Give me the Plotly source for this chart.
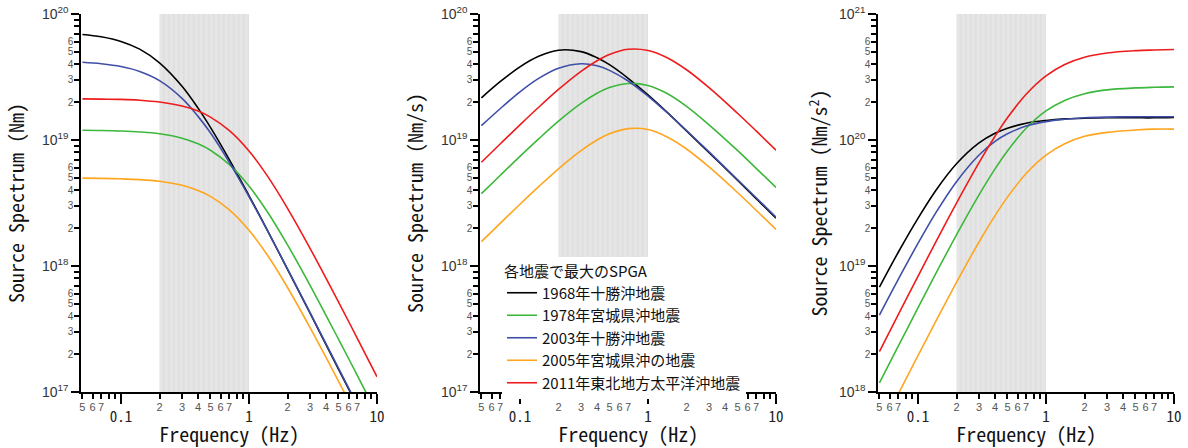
import math
import plotly.graph_objects as go

# ---------------- data ----------------
freq = [0.05, 0.07, 0.1, 0.14, 0.2, 0.3, 0.4, 0.5, 0.7, 1.0, 1.4, 2.0, 3.0, 5.0, 7.0, 10.0]

names = ["1968年十勝沖地震", "1978年宮城県沖地震", "2003年十勝沖地震",
         "2005年宮城県沖の地震", "2011年東北地方太平洋沖地震"]
colors = ["#000000", "#3cb83c", "#3f4fa8", "#ffa51f", "#ee1c1c"]

# displacement source spectrum (Nm)
d1968 = [6.88e19, 6.59e19, 6.06e19, 5.26e19, 4.10e19, 2.67e19, 1.79e19, 1.26e19, 7.03e18, 3.62e18, 1.90e18, 9.42e17, 4.22e17, 1.52e17, 7.78e16, 3.81e16]
d1978 = [1.195e19, 1.19e19, 1.179e19, 1.159e19, 1.12e19, 1.034e19, 9.33e18, 8.30e18, 6.40e18, 4.31e18, 2.67e18, 1.47e18, 7.03e17, 2.63e17, 1.36e17, 6.68e16]
d2003 = [4.14e19, 4.03e19, 3.83e19, 3.50e19, 2.96e19, 2.14e19, 1.54e19, 1.14e19, 6.68e18, 3.56e18, 1.89e18, 9.48e17, 4.27e17, 1.55e17, 7.90e16, 3.88e16]
d2005 = [4.98e18, 4.96e18, 4.92e18, 4.85e18, 4.70e18, 4.37e18, 3.98e18, 3.57e18, 2.80e18, 1.92e18, 1.21e18, 6.75e17, 3.24e17, 1.22e17, 6.29e16, 3.10e16]
d2011 = [2.12e19, 2.11e19, 2.10e19, 2.07e19, 2.00e19, 1.86e19, 1.70e19, 1.52e19, 1.19e19, 8.18e18, 5.14e18, 2.87e18, 1.38e18, 5.19e17, 2.68e17, 1.32e17]

# velocity source spectrum (Nm/s)
v1968 = [2.16e19, 2.90e19, 3.81e19, 4.62e19, 5.16e19, 5.03e19, 4.50e19, 3.96e19, 3.09e19, 2.28e19, 1.67e19, 1.18e19, 7.95e18, 4.79e18, 3.42e18, 2.40e18]
v1978 = [3.75e18, 5.23e18, 7.41e18, 1.02e19, 1.41e19, 1.95e19, 2.35e19, 2.61e19, 2.81e19, 2.71e19, 2.35e19, 1.85e19, 1.32e19, 8.26e18, 5.96e18, 4.20e18]
v2003 = [1.30e19, 1.77e19, 2.41e19, 3.08e19, 3.71e19, 4.03e19, 3.88e19, 3.57e19, 2.94e19, 2.23e19, 1.66e19, 1.19e19, 8.05e18, 4.86e18, 3.48e18, 2.44e18]
v2005 = [1.56e18, 2.18e18, 3.09e18, 4.26e18, 5.91e18, 8.24e18, 1.00e19, 1.12e19, 1.23e19, 1.21e19, 1.06e19, 8.48e18, 6.11e18, 3.83e18, 2.77e18, 1.95e18]
v2011 = [6.66e18, 9.29e18, 1.32e19, 1.82e19, 2.52e19, 3.51e19, 4.26e19, 4.78e19, 5.25e19, 5.14e19, 4.52e19, 3.61e19, 2.60e19, 1.63e19, 1.18e19, 8.30e18]

# acceleration source spectrum (Nm/s^2)
a1968 = [6.79e18, 1.28e19, 2.39e19, 4.07e19, 6.48e19, 9.48e19, 1.13e20, 1.24e20, 1.36e20, 1.43e20, 1.47e20, 1.49e20, 1.50e20, 1.50e20, 1.50e20, 1.51e20]
a1978 = [1.18e18, 2.30e18, 4.65e18, 8.97e18, 1.77e19, 3.67e19, 5.90e19, 8.19e19, 1.24e20, 1.70e20, 2.06e20, 2.33e20, 2.50e20, 2.59e20, 2.62e20, 2.64e20]
a2003 = [4.08e18, 7.80e18, 1.51e19, 2.71e19, 4.67e19, 7.60e19, 9.75e19, 1.12e20, 1.29e20, 1.40e20, 1.46e20, 1.50e20, 1.52e20, 1.53e20, 1.53e20, 1.53e20]
a2005 = [4.91e17, 9.60e17, 1.94e18, 3.75e18, 7.42e18, 1.55e19, 2.51e19, 3.52e19, 5.42e19, 7.58e19, 9.34e19, 1.07e20, 1.15e20, 1.20e20, 1.22e20, 1.22e20]
a2011 = [2.09e18, 4.09e18, 8.27e18, 1.60e19, 3.16e19, 6.62e19, 1.07e20, 1.50e20, 2.31e20, 3.23e20, 3.98e20, 4.54e20, 4.91e20, 5.12e20, 5.18e20, 5.22e20]

band = [0.2, 1.0]           # shaded frequency band (Hz)
x_range = [0.049, 10.0]
y_exps = [(17, 20), (17, 20), (18, 21)]
y_titles = ["Source Spectrum (Nm)", "Source Spectrum (Nm/s)", "Source Spectrum (Nm/s<sup>2</sup>)"]
x_title = "Frequency (Hz)"
legend_title = "各地震で最大のSPGA"

x_major = [0.1, 1.0, 10.0]
x_major_text = ["0.1", "1", "10"]

# ---------------- layout geometry ----------------
W, H = 1188, 448
panel_px = [(81.3, 377.0), (480.3, 776.0), (878.3, 1174.0)]
y_dom = [(448 - 392) / H, (448 - 14) / H]

MONO = "Noto Sans Mono CJK JP, DejaVu Sans Mono, monospace"
SANS = "Liberation Sans, Arial, sans-serif"
CJK = "Noto Sans CJK JP, sans-serif"

series = [[d1968, d1978, d2003, d2005, d2011],
          [v1968, v1978, v2003, v2005, v2011],
          [a1968, a1978, a2003, a2005, a2011]]

fig = go.Figure()

x_minor_all, x_minor_lab, x_minor_text = [], [], []
for dec in (0.01, 0.1, 1.0):
    for m in range(2, 10):
        v = m * dec
        if v < 0.049:
            continue
        x_minor_all.append(v)
        if m <= 7:
            x_minor_lab.append(v)
            x_minor_text.append(str(m))

layout = dict(width=W, height=H, margin=dict(l=0, r=0, t=0, b=0, autoexpand=False), autosize=False,
              template="none", paper_bgcolor="white", plot_bgcolor="white", showlegend=True,
              font=dict(family=SANS, color="#222"))

lx = [math.log10(x_range[0]), math.log10(x_range[1])]

for i in range(3):
    n = i + 1
    xid = "x" if n == 1 else f"x{n}"
    yid = "y" if n == 1 else f"y{n}"
    xo = f"x{n + 3}"
    yo = f"y{n + 3}"
    e0, e1 = y_exps[i]
    lo, hi = 10.0 ** e0, 10.0 ** e1
    dom = [panel_px[i][0] / W, panel_px[i][1] / W]

    # shaded band
    fig.add_trace(go.Scatter(
        x=[band[0], band[1], band[1], band[0], band[0]],
        y=[lo, lo, hi, hi, lo],
        mode="lines", line=dict(width=0), fill="toself", fillcolor="#e5e5e5",
        fillpattern=dict(shape="|", fgcolor="#dddddd", bgcolor="#e6e6e6", size=5, solidity=0.3),
        xaxis=xid, yaxis=yid, showlegend=False, hoverinfo="skip"))

    for k in range(5):
        fig.add_trace(go.Scatter(
            x=freq, y=series[i][k], mode="lines", name=names[k],
            line=dict(color=colors[k], width=1.6, shape="spline", smoothing=1.0),
            xaxis=xid, yaxis=yid, legendgroup=names[k], showlegend=(i == 1)))

    # dummy traces so the minor-label overlay axes are drawn
    fig.add_trace(go.Scatter(x=[None], y=[None], xaxis=xo, yaxis=yid, showlegend=False, hoverinfo="skip"))
    fig.add_trace(go.Scatter(x=[None], y=[None], xaxis=xid, yaxis=yo, showlegend=False, hoverinfo="skip"))

    y_major = [10.0 ** e for e in range(e0, e1 + 1)]
    y_major_text = [f"10<sup>{e}</sup>" for e in range(e0, e1 + 1)]
    y_minor_all, y_minor_lab, y_minor_text = [], [], []
    for e in range(e0, e1):
        for m in range(2, 10):
            y_minor_all.append(m * 10.0 ** e)
            if m <= 6:
                y_minor_lab.append(m * 10.0 ** e)
                y_minor_text.append(str(m))

    layout["xaxis" if n == 1 else f"xaxis{n}"] = dict(
        type="log", range=lx, domain=dom, anchor=yid, showgrid=False, zeroline=False, automargin=False,
        showline=True, linecolor="black", linewidth=2, ticks="outside", ticklen=10, tickwidth=2,
        tickcolor="black", tickmode="array", tickvals=x_major, ticktext=x_major_text,
        minor=dict(tickmode="array", tickvals=x_minor_all, ticks="outside", ticklen=5,
                   tickwidth=1.5, tickcolor="black", showgrid=False),
        tickfont=dict(family=MONO, size=15, color="#222"), ticklabelstandoff=0,
        title=dict(text=x_title, font=dict(family=MONO, size=20, color="#111"), standoff=0))
    layout[f"xaxis{n + 3}"] = dict(
        type="log", range=lx, domain=dom, anchor=yid, overlaying=xid, side="bottom", automargin=False,
        showgrid=False, zeroline=False, showline=False, ticks="outside", ticklen=5, tickwidth=1.5,
        tickcolor="black", tickmode="array", tickvals=x_minor_lab, ticktext=x_minor_text,
        tickfont=dict(family=SANS, size=11, color="#555"))
    layout["yaxis" if n == 1 else f"yaxis{n}"] = dict(
        type="log", range=[e0, e1], domain=y_dom, anchor=xid, showgrid=False, zeroline=False,
        automargin=False,
        showline=True, linecolor="black", linewidth=2, ticks="outside", ticklen=8, tickwidth=2,
        tickcolor="black", tickmode="array", tickvals=y_major, ticktext=y_major_text,
        minor=dict(tickmode="array", tickvals=y_minor_all, ticks="outside", ticklen=5,
                   tickwidth=1.5, tickcolor="black", showgrid=False),
        tickfont=dict(family=SANS, size=14, color="#333"),
        title=dict(text=y_titles[i], font=dict(family=MONO, size=20, color="#111"),
                   standoff=12 if i < 2 else 6))
    layout[f"yaxis{n + 3}"] = dict(
        type="log", range=[e0, e1], domain=y_dom, anchor=xid, overlaying=yid, side="left",
        automargin=False,
        showgrid=False, zeroline=False, showline=False, ticks="outside", ticklen=5, tickwidth=1.5,
        tickcolor="black", tickmode="array", tickvals=y_minor_lab, ticktext=y_minor_text,
        tickfont=dict(family=SANS, size=10, color="#555"))

layout["legend"] = dict(
    x=502 / W, y=(H - 257) / H, xanchor="left", yanchor="top", bgcolor="white",
    borderwidth=0, font=dict(family=CJK, size=15, color="#111"),
    title=dict(text=legend_title, font=dict(family=CJK, size=15, color="#111")),
    tracegroupgap=0, itemwidth=30)

fig.update_layout(**layout)
fig.write_html("out.html", config={"displayModeBar": False},
               post_script="document.body.style.margin='0px';document.body.style.overflow='hidden';")
